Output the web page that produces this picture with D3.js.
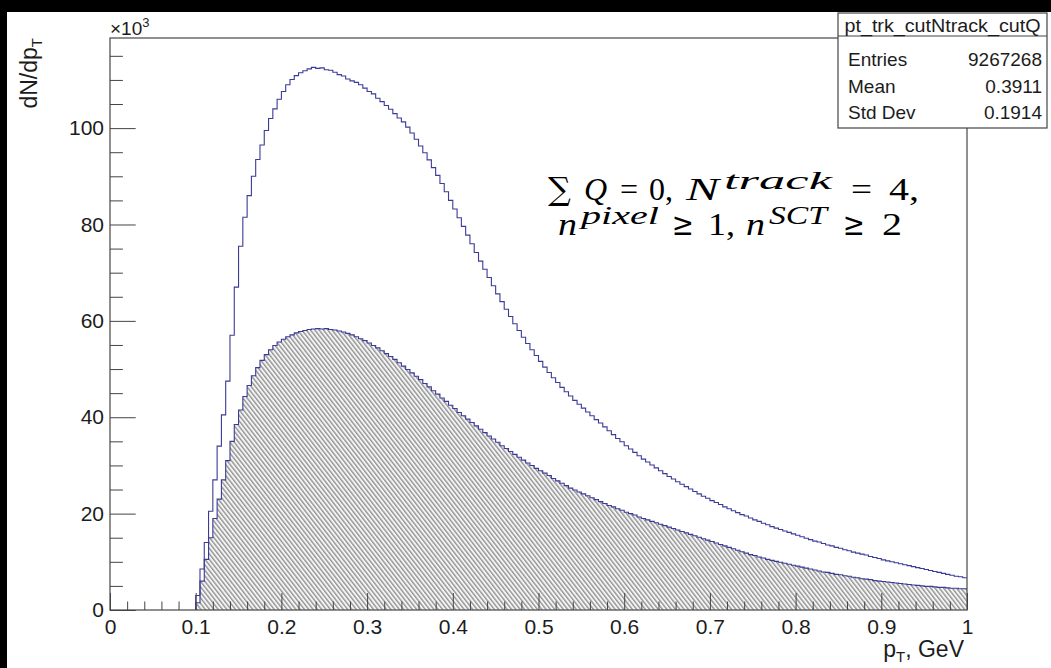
<!DOCTYPE html>
<html>
<head>
<meta charset="utf-8">
<script src="https://cdn.jsdelivr.net/npm/d3@7"></script>
<style>
  html, body { margin: 0; padding: 0; background: #000; }
  svg { display: block; }
</style>
</head>
<body>
<svg id="chart" width="1051" height="668"></svg>
<script>
// Track transverse-momentum spectrum, 0.005 GeV bins from 0.1 to 1.0 GeV.
// Bin contents are in units of 10^3 entries.
const binStart = 0.1;
const binWidth = 0.005;

// all selected tracks (open histogram)
const allTracks = [
  3, 8.5, 14, 20.5, 27, 34, 40.5, 47.5, 57, 67,
  75.5, 81.5, 86, 90, 93.5, 96.5, 99.5, 102, 104, 106,
  107.6, 109, 110.1, 110.9, 111.5, 111.9, 112.3, 112.6, 112.4, 112.5,
  112.1, 112.0, 111.6, 111.1, 110.8, 110.2, 109.8, 109.5, 109.0, 108.3,
  107.6, 107.1, 106.2, 105.5, 104.7, 103.9, 103.0, 102.1, 101.3, 100.2,
  99.0, 97.7, 96.3, 94.9, 93.4, 91.8, 90.2, 88.5, 86.8, 85.0,
  83.2, 81.4, 79.6, 77.8, 76.0, 74.2, 72.4, 70.7, 69.0, 67.3,
  65.6, 64.0, 62.4, 60.9, 59.4, 58.0, 56.6, 55.3, 54.0, 52.8,
  51.6, 50.4, 49.3, 48.2, 47.2, 46.2, 45.3, 44.4, 43.5, 42.7,
  41.9, 41.1, 40.3, 39.5, 38.8, 38.0, 37.2, 36.4, 35.6, 34.9,
  34.1, 33.4, 32.7, 32.0, 31.3, 30.7, 30.1, 29.5, 28.9, 28.3,
  27.7, 27.2, 26.6, 26.1, 25.6, 25.1, 24.6, 24.1, 23.6, 23.2,
  22.7, 22.3, 21.9, 21.4, 21.0, 20.6, 20.2, 19.8, 19.5, 19.1,
  18.7, 18.4, 18.0, 17.7, 17.3, 17.0, 16.7, 16.4, 16.1, 15.8,
  15.5, 15.2, 14.9, 14.6, 14.3, 14.1, 13.8, 13.5, 13.3, 13.0,
  12.8, 12.5, 12.3, 12.0, 11.8, 11.6, 11.4, 11.1, 10.9, 10.7,
  10.4, 10.2, 10.0, 9.8, 9.6, 9.4, 9.2, 9.0, 8.8, 8.6,
  8.4, 8.2, 8.0, 7.8, 7.6, 7.4, 7.2, 7.0, 6.9, 6.7
];

// tracks passing the charge / multiplicity / hit cuts (hatched histogram)
const cutTracks = [
  1.5, 6, 10.5, 15, 19, 23, 27, 31, 35, 38.5,
  41.5, 44.3, 46.6, 48.6, 50.3, 51.8, 53.0, 54.0, 54.9, 55.6,
  56.2, 56.7, 57.1, 57.5, 57.8, 58.0, 58.2, 58.3, 58.4, 58.3,
  58.4, 58.2, 58.1, 57.9, 57.7, 57.4, 57.1, 56.7, 56.3, 55.9,
  55.4, 54.9, 54.4, 53.8, 53.2, 52.6, 52.0, 51.3, 50.6, 49.9,
  49.2, 48.5, 47.8, 47.0, 46.3, 45.5, 44.8, 44.0, 43.3, 42.5,
  41.8, 41.0, 40.3, 39.6, 38.9, 38.2, 37.5, 36.8, 36.1, 35.5,
  34.8, 34.1, 33.5, 32.9, 32.3, 31.7, 31.1, 30.5, 30.0, 29.4,
  28.9, 28.4, 27.9, 27.3, 26.8, 26.3, 25.8, 25.3, 24.9, 24.5,
  24.1, 23.7, 23.3, 22.9, 22.5, 22.1, 21.7, 21.4, 21.0, 20.7,
  20.3, 20.0, 19.7, 19.3, 19.0, 18.7, 18.4, 18.1, 17.8, 17.5,
  17.2, 16.9, 16.6, 16.3, 16.0, 15.7, 15.4, 15.1, 14.8, 14.5,
  14.2, 13.9, 13.6, 13.3, 13.0, 12.7, 12.4, 12.1, 11.8, 11.5,
  11.3, 11.0, 10.8, 10.5, 10.3, 10.1, 9.9, 9.7, 9.5, 9.3,
  9.1, 8.9, 8.7, 8.5, 8.3, 8.1, 7.9, 7.8, 7.6, 7.4,
  7.3, 7.1, 7.0, 6.8, 6.7, 6.5, 6.4, 6.3, 6.1, 6.0,
  5.9, 5.8, 5.7, 5.6, 5.5, 5.4, 5.3, 5.2, 5.1, 5.0,
  4.9, 4.9, 4.8, 4.7, 4.7, 4.6, 4.5, 4.5, 4.4, 4.4
];

const xMajorTicks = [0, 0.1, 0.2, 0.3, 0.4, 0.5, 0.6, 0.7, 0.8, 0.9, 1];
const xTickLabels = ["0", "0.1", "0.2", "0.3", "0.4", "0.5", "0.6", "0.7", "0.8", "0.9", "1"];
const yMajorTicks = [0, 20, 40, 60, 80, 100];
const yTickLabels = ["0", "20", "40", "60", "80", "100"];

const statsTitle = "pt_trk_cutNtrack_cutQ";
const statsLabels = ["Entries", "Mean", "Std Dev"];
const statsValues = ["9267268", "0.3911", "0.1914"];

// ---------------------------------------------------------------------------
const W = 1051, H = 668;
const frame = { left: 110, right: 967, top: 38, bottom: 610 };
const yMax = 118.7;
const sans = "'Liberation Sans', Arial, Helvetica, sans-serif";
const serif = "'Liberation Serif', 'Times New Roman', serif";
const symbolFont = "'DejaVu Serif', 'Liberation Serif', serif";
const inkColor = "#1c1c1c";
const histColor = "#3b3b96";

const svg = d3.select("#chart");

// canvas: white pad with a thin dark margin on the left and top
svg.append("rect").attr("x", 0).attr("y", 0).attr("width", W).attr("height", H).attr("fill", "#000");
svg.append("rect").attr("x", 7).attr("y", 12).attr("width", W - 7).attr("height", H - 12).attr("fill", "#fff");

const x = d3.scaleLinear().domain([0, 1]).range([frame.left, frame.right]);
const y = d3.scaleLinear().domain([0, yMax]).range([frame.bottom, frame.top]);

// hatch pattern for the cut histogram
const defs = svg.append("defs");
const hatch = defs.append("pattern")
  .attr("id", "hatch")
  .attr("patternUnits", "userSpaceOnUse")
  .attr("width", 3.4).attr("height", 10)
  .attr("patternTransform", "rotate(-38)");
hatch.append("rect").attr("width", 3.4).attr("height", 10).attr("fill", "#f4f4f4");
hatch.append("line")
  .attr("x1", 0.7).attr("y1", 0).attr("x2", 0.7).attr("y2", 10)
  .attr("stroke", "#8c8c8c").attr("stroke-width", 1.3);

function binPoints(vals) {
  const pts = vals.map((v, i) => [binStart + i * binWidth, v]);
  pts.push([binStart + vals.length * binWidth, vals[vals.length - 1]]);
  return pts;
}

const stepLine = d3.line()
  .x(d => x(d[0])).y(d => y(d[1]))
  .curve(d3.curveStepAfter);

const stepArea = d3.area()
  .x(d => x(d[0])).y0(y(0)).y1(d => y(d[1]))
  .curve(d3.curveStepAfter);

const cutPts = binPoints(cutTracks);
const allPts = binPoints(allTracks);

svg.append("path")
  .attr("d", stepArea(cutPts))
  .attr("fill", "url(#hatch)");

svg.append("path")
  .attr("d", stepLine([[binStart, 0], ...cutPts]))
  .attr("fill", "none").attr("stroke", histColor).attr("stroke-width", 1.1);

svg.append("path")
  .attr("d", stepLine([[binStart, 0], ...allPts]))
  .attr("fill", "none").attr("stroke", histColor).attr("stroke-width", 1.1);

// frame
svg.append("rect")
  .attr("x", frame.left).attr("y", frame.top)
  .attr("width", frame.right - frame.left).attr("height", frame.bottom - frame.top)
  .attr("fill", "none").attr("stroke", "#555").attr("stroke-width", 1.3);

// x axis: major and minor ticks pointing into the frame
const xMinor = d3.range(0, 1.0001, 0.02).filter(v => Math.abs(v * 10 - Math.round(v * 10)) > 1e-6);
const xAxisMinor = svg.append("g")
  .attr("transform", `translate(0,${frame.bottom})`)
  .call(d3.axisBottom(x).tickValues(xMinor).tickSize(-8.5).tickFormat(""));
const xAxis = svg.append("g")
  .attr("transform", `translate(0,${frame.bottom})`)
  .call(d3.axisBottom(x).tickValues(xMajorTicks).tickSize(-17).tickPadding(9)
    .tickFormat((d, i) => xTickLabels[i]));

// y axis
const yMinor = d3.range(0, yMax, 5).filter(v => v % 20 !== 0);
const yAxisMinor = svg.append("g")
  .attr("transform", `translate(${frame.left},0)`)
  .call(d3.axisLeft(y).tickValues(yMinor).tickSize(-12.9).tickFormat(""));
const yAxis = svg.append("g")
  .attr("transform", `translate(${frame.left},0)`)
  .call(d3.axisLeft(y).tickValues(yMajorTicks).tickSize(-25.7).tickPadding(6)
    .tickFormat((d, i) => yTickLabels[i]));

[xAxisMinor, xAxis, yAxisMinor, yAxis].forEach(g => {
  g.select(".domain").remove();
  g.selectAll(".tick line").attr("stroke", "#444").attr("stroke-width", 1);
  g.selectAll(".tick text")
    .attr("fill", inkColor)
    .style("font-family", sans)
    .style("font-size", "21px");
});

// exponent marker for the y axis
const expo = svg.append("text")
  .attr("x", frame.left).attr("y", 35)
  .attr("fill", inkColor)
  .style("font-family", sans).style("font-size", "19px");
expo.append("tspan").text("\u00d710");
expo.append("tspan").attr("dy", -8).style("font-size", "13px").text("3");

// axis titles
const yTitle = svg.append("text")
  .attr("transform", `translate(37,${frame.top}) rotate(-90)`)
  .attr("text-anchor", "end")
  .attr("fill", inkColor)
  .style("font-family", sans).style("font-size", "23px");
yTitle.append("tspan").text("dN/dp");
yTitle.append("tspan").attr("dy", 5).style("font-size", "15px").text("T");

const xTitle = svg.append("text")
  .attr("x", 964).attr("y", 657)
  .attr("text-anchor", "end")
  .attr("fill", inkColor)
  .style("font-family", sans).style("font-size", "23px");
xTitle.append("tspan").text("p");
xTitle.append("tspan").attr("dy", 5).style("font-size", "15px").text("T");
xTitle.append("tspan").attr("dy", -5).text(", GeV");

// statistics box
const box = { left: 838, top: 13, right: 1047, bottom: 128, titleLine: 36 };
svg.append("rect")
  .attr("x", box.left).attr("y", box.top)
  .attr("width", box.right - box.left).attr("height", box.bottom - box.top)
  .attr("fill", "#fff").attr("stroke", "#444").attr("stroke-width", 1.2);
svg.append("line")
  .attr("x1", box.left).attr("x2", box.right)
  .attr("y1", box.titleLine).attr("y2", box.titleLine)
  .attr("stroke", "#444").attr("stroke-width", 1.2);
svg.append("text")
  .attr("x", (box.left + box.right) / 2).attr("y", 32)
  .attr("text-anchor", "middle")
  .attr("textLength", 196).attr("lengthAdjust", "spacingAndGlyphs")
  .attr("fill", inkColor)
  .style("font-family", sans).style("font-size", "18px")
  .text(statsTitle);
const rowBase = [66, 92.5, 119];
statsLabels.forEach((lab, i) => {
  svg.append("text")
    .attr("x", 848).attr("y", rowBase[i])
    .attr("fill", inkColor)
    .style("font-family", sans).style("font-size", "19px")
    .text(lab);
  svg.append("text")
    .attr("x", 1042).attr("y", rowBase[i])
    .attr("text-anchor", "end")
    .attr("fill", inkColor)
    .style("font-family", sans).style("font-size", "19px")
    .text(statsValues[i]);
});

// selection-cut annotation, set piece by piece like a typeset formula
const lineBase = [200, 235];
const supBase = [189, 224];

// "∑ Q = 0," as one text run with fixed glyph positions
const sumPart = svg.append("text")
  .attr("y", lineBase[0])
  .attr("fill", "#000")
  .style("font-family", serif).style("font-size", "32px");
sumPart.append("tspan").attr("x", 548).style("font-family", symbolFont).text("\u2211");
sumPart.append("tspan").attr("x", 584).style("font-style", "italic").text("Q");
sumPart.append("tspan").attr("x", 620).text("=");
sumPart.append("tspan").attr("x", 649).text("0,");

const noteSegments = [
  { line: 0, x: 686, text: "N", kind: "it", len: 33 },
  { line: 0, x: 724, text: "track", kind: "sup", len: 108 },
  { line: 0, x: 851, text: "=", kind: "rm", len: 21 },
  { line: 0, x: 889, text: "4,", kind: "rm", len: 30 },
  { line: 1, x: 558, text: "n", kind: "it", len: 19 },
  { line: 1, x: 581, text: "pixel", kind: "sup", len: 78 },
  { line: 1, x: 672, text: "\u2265", kind: "sym", len: 22 },
  { line: 1, x: 708, text: "1,", kind: "rm", len: 27 },
  { line: 1, x: 746, text: "n", kind: "it", len: 19 },
  { line: 1, x: 769, text: "SCT", kind: "sup", len: 58 },
  { line: 1, x: 843, text: "\u2265", kind: "sym", len: 22 },
  { line: 1, x: 882, text: "2", kind: "rm", len: 20 }
];
noteSegments.forEach(s => {
  svg.append("text")
    .attr("x", s.x)
    .attr("y", s.kind === "sup" ? supBase[s.line] : lineBase[s.line])
    .attr("textLength", s.len)
    .attr("lengthAdjust", "spacingAndGlyphs")
    .attr("fill", "#000")
    .style("font-family", s.kind === "sym" ? symbolFont : serif)
    .style("font-size", s.kind === "sup" ? "26px" : "32px")
    .style("font-style", (s.kind === "it" || s.kind === "sup") ? "italic" : "normal")
    .text(s.text);
});
</script>
</body>
</html>
